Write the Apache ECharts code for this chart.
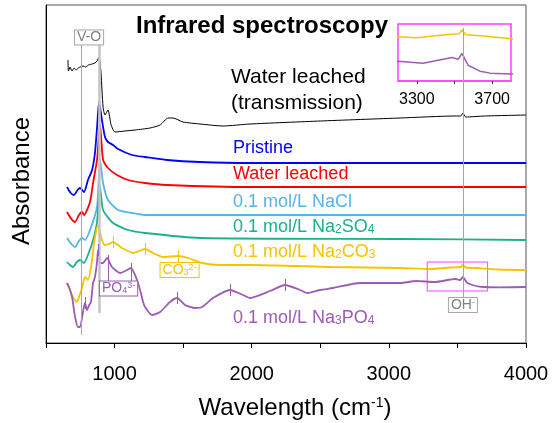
<!DOCTYPE html>
<html>
<head>
<meta charset="utf-8">
<script src="https://cdn.jsdelivr.net/npm/echarts@6/dist/echarts.min.js"></script>
<style>
html, body { margin: 0; padding: 0; background: #fff; }
#main { width: 555px; height: 423px; }
</style>
</head>
<body>
<div id="main"></div>
<script>
// spectra: [wavenumber (cm-1), absorbance (a.u., stacked offsets)]
const transmission = [[660,2.83],[664,2.72],[675,2.76],[690,2.72],[705,2.75],[720,2.73],[735,2.75],[750,2.76],[770,2.77],[790,2.76],[810,2.78],[836,2.79],[857,2.80],[872,2.82],[887,2.86],[901,2.70],[916,2.36],[930,2.28],[952,2.33],[975,2.18],[1003,2.11],[1076,2.12],[1150,2.13],[1259,2.15],[1332,2.18],[1390,2.25],[1426,2.25],[1499,2.21],[1623,2.19],[1791,2.17],[1988,2.19],[2500,2.22],[3082,2.25],[3483,2.27],[3525,2.27],[3540,2.30],[3560,2.26],[3700,2.27],[4000,2.28]];
const pristine = [[653,1.56],[680,1.50],[704,1.48],[730,1.53],[748,1.55],[777,1.51],[806,1.63],[836,1.73],[857,1.90],[872,2.15],[887,2.41],[908,2.23],[930,2.06],[952,2.01],[989,1.98],[1025,1.94],[1127,1.88],[1222,1.86],[1383,1.83],[1623,1.81],[1988,1.80],[4000,1.80]];
const waterLeached = [[653,1.31],[685,1.24],[712,1.21],[740,1.28],[763,1.31],[777,1.28],[821,1.41],[843,1.60],[872,1.83],[894,2.18],[916,1.83],[952,1.75],[1018,1.68],[1098,1.63],[1222,1.60],[1383,1.58],[1988,1.56],[4000,1.56]];
const naCl = [[653,1.05],[685,0.99],[712,0.96],[740,1.02],[763,1.05],[784,1.03],[821,1.13],[872,1.36],[894,1.83],[916,1.60],[952,1.43],[1025,1.33],[1127,1.30],[1222,1.28],[1623,1.28],[4000,1.28]];
const na2SO4 = [[653,0.81],[675,0.78],[697,0.76],[725,0.81],[748,0.83],[777,0.80],[806,0.88],[843,1.03],[872,1.21],[894,1.56],[916,1.33],[989,1.20],[1098,1.13],[1222,1.10],[1623,1.05],[3082,1.04],[4000,1.03]];
const na2CO3 = [[653,0.60],[675,0.53],[700,0.45],[726,0.41],[745,0.48],[763,0.55],[784,0.66],[806,0.63],[836,0.83],[850,1.00],[879,1.18],[908,1.03],[930,0.98],[960,0.99],[989,1.01],[1054,0.95],[1135,0.90],[1222,0.94],[1280,0.90],[1353,0.86],[1463,0.87],[1536,0.85],[1638,0.80],[1769,0.78],[1988,0.78],[2580,0.76],[3082,0.75],[3300,0.74],[3450,0.755],[3525,0.76],[3540,0.78],[3560,0.755],[3640,0.75],[3800,0.735],[4000,0.73]];
const na3PO4 = [[653,0.60],[670,0.55],[690,0.46],[712,0.26],[733,0.16],[748,0.16],[770,0.31],[784,0.40],[799,0.33],[815,0.38],[828,0.41],[843,0.60],[857,0.66],[872,0.81],[879,0.93],[890,0.82],[901,0.80],[916,0.80],[945,0.85],[981,0.76],[1040,0.70],[1091,0.73],[1120,0.75],[1164,0.63],[1186,0.53],[1208,0.41],[1222,0.36],[1273,0.28],[1332,0.31],[1404,0.41],[1456,0.45],[1514,0.38],[1587,0.35],[1638,0.36],[1718,0.45],[1842,0.53],[1937,0.48],[1988,0.45],[2134,0.52],[2243,0.58],[2353,0.53],[2404,0.50],[2499,0.53],[2593,0.55],[2790,0.60],[3082,0.60],[3200,0.62],[3333,0.61],[3487,0.64],[3519,0.63],[3540,0.66],[3556,0.63],[3572,0.60],[3635,0.57],[3689,0.56],[3800,0.556],[4000,0.56]];

// marked bands (cm-1)
const voLines = [755, 887];
const ohLine = 3540;
const po4Peaks = [952, 1120];
const po4Ticks = [784, 879, 1456, 1842, 2243];
const co3Peaks = [989, 1222, 1463];
const zoomBox = [[3280, 0.52], [3720, 0.81]];
const xTickLabels = [1000, 2000, 3000, 4000];
const insetTickLabels = [3300, 3700];
const insetTicks = [3300, 3500, 3700];

const FONT = '"Liberation Sans", Arial, sans-serif';
const C = {
  black: '#000000', blue: '#0000ff', red: '#ff0000', lightblue: '#56b4e9',
  green: '#1cb18c', yellow: '#f5c300', purple: '#9b5cb5', grey: '#8c8c8c', magenta: '#ff40ff'
};

function valueAt(arr, x) {
  for (let i = 1; i < arr.length; i++) {
    if (arr[i][0] >= x) {
      const a = arr[i - 1], b = arr[i];
      return a[1] + (b[1] - a[1]) * (x - a[0]) / (b[0] - a[0]);
    }
  }
  return arr[arr.length - 1][1];
}

function peakTicks(arr, xs, half) {
  return xs.map(x => {
    const y = valueAt(arr, x);
    return [{ coord: [x, y - half] }, { coord: [x, y + half] }];
  });
}

function spectrum(name, data, color, width) {
  return {
    name, type: 'line', data, showSymbol: false, symbol: 'none', smooth: 0.2,
    lineStyle: { color, width }, itemStyle: { color }, z: 3
  };
}

const chart = echarts.init(document.getElementById('main'));

const black = spectrum('Water leached (transmission)', transmission, C.black, 1);
black.markLine = {
  silent: true, symbol: ['none', 'none'], label: { show: false }, animation: false,
  lineStyle: { color: '#a6a6a6', width: 1, type: 'solid' },
  data: [
    [{ coord: [voLines[0], 2.99] }, { coord: [voLines[0], 0.08] }],
    [{ coord: [voLines[1], 2.99], lineStyle: { color: '#c4c4c4', width: 2.5 } },
     { coord: [voLines[1], 0.30], lineStyle: { color: '#c4c4c4', width: 2.5 } }],
    [{ coord: [ohLine, 3.15] }, { coord: [ohLine, 0.45] }]
  ]
};

const yellow = spectrum('0.1 mol/L Na2CO3', na2CO3, C.yellow, 1.8);
yellow.markLine = {
  silent: true, symbol: ['none', 'none'], label: { show: false }, animation: false,
  lineStyle: { color: C.yellow, width: 1, type: 'solid' },
  data: peakTicks(na2CO3, co3Peaks.slice(0, 2), 0.06).concat([
    [{ coord: [co3Peaks[2], 0.80] }, { coord: [co3Peaks[2], valueAt(na2CO3, co3Peaks[2]) + 0.06] }]
  ])
};
yellow.markArea = {
  silent: true,
  itemStyle: { color: 'rgba(0,0,0,0)', borderColor: C.magenta, borderWidth: 1 },
  data: [[{ coord: zoomBox[0] }, { coord: zoomBox[1] }]]
};

const purple = spectrum('0.1 mol/L Na3PO4', na3PO4, C.purple, 1.8);
purple.markLine = {
  silent: true, symbol: ['none', 'none'], label: { show: false }, animation: false,
  lineStyle: { color: C.purple, width: 1, type: 'solid' },
  data: peakTicks(na3PO4, po4Ticks, 0.06).concat(
    po4Peaks.map(x => [{ coord: [x, 0.61] }, { coord: [x, valueAt(na3PO4, x) + 0.05] }])
  )
};

const option = {
  animation: false,
  textStyle: { fontFamily: FONT },
  grid: [
    { left: 46, right: 29, top: 5, bottom: 80, show: true, borderColor: '#555', borderWidth: 1 },
    { left: 398, top: 24, width: 113, height: 57, show: true, borderColor: C.magenta, borderWidth: 1.5 }
  ],
  xAxis: [
    {
      type: 'value', min: 500, max: 4000, interval: 500,
      axisLine: { lineStyle: { color: '#000', width: 1 } },
      axisTick: { length: 5, lineStyle: { color: '#000' } },
      axisLabel: {
        fontSize: 20, color: '#000', margin: 21, fontFamily: FONT,
        formatter: v => (xTickLabels.indexOf(v) >= 0 ? String(v) : '')
      },
      splitLine: { show: false }
    },
    {
      type: 'value', gridIndex: 1, min: 3200, max: 3800,
      axisLine: { lineStyle: { color: C.magenta, width: 1.5 } },
      axisTick: { customValues: insetTicks, length: 3, lineStyle: { color: '#333' } },
      axisLabel: { customValues: insetTickLabels, fontSize: 16, color: '#000', margin: 11, fontFamily: FONT,
        formatter: v => String(v) },
      splitLine: { show: false }
    }
  ],
  yAxis: [
    {
      type: 'value', min: 0, max: 3.38,
      axisLine: { show: true, lineStyle: { color: '#000' } },
      axisTick: { show: false }, axisLabel: { show: false }, splitLine: { show: false }
    },
    { type: 'value', gridIndex: 1, min: 0.52, max: 0.81, show: false, splitLine: { show: false } }
  ],
  series: [
    black,
    spectrum('Pristine', pristine, C.blue, 1.8),
    spectrum('Water leached', waterLeached, C.red, 1.8),
    spectrum('0.1 mol/L NaCl', naCl, C.lightblue, 1.8),
    spectrum('0.1 mol/L Na2SO4', na2SO4, C.green, 1.8),
    yellow,
    purple,
    Object.assign(spectrum('inset Na2CO3', na2CO3, C.yellow, 1.5), { xAxisIndex: 1, yAxisIndex: 1, clip: true, smooth: false }),
    Object.assign(spectrum('inset Na3PO4', na3PO4, C.purple, 1.5), { xAxisIndex: 1, yAxisIndex: 1, clip: true, smooth: false })
  ]
};

chart.setOption(option);

// text annotations
const subRich = {
  sub: { fontSize: 12, verticalAlign: 'bottom', padding: [6, 0, 0, 0] },
  sup: { fontSize: 10, verticalAlign: 'top', padding: [0, 0, 6, 0] }
};
function label(x, y, text, color, size) {
  return {
    type: 'text', x, y, silent: true,
    style: { text, fill: color, fontSize: size || 18, fontFamily: FONT, align: 'left', verticalAlign: 'middle', rich: subRich }
  };
}
function tagBox(xv, yv, text, color, border) {
  const p = chart.convertToPixel({ gridIndex: 0 }, [xv, yv]);
  return {
    type: 'text', x: p[0], y: p[1], silent: true, z: 10,
    style: {
      text, fill: color, fontSize: 14, fontFamily: FONT, align: 'center', verticalAlign: 'middle',
      backgroundColor: '#fff', borderColor: border, borderWidth: 1, padding: [0, 2, 0, 2],
      rich: {
        main: { fontSize: 14, fill: color },
        sub: { fontSize: 9, verticalAlign: 'bottom', fill: color },
        sup: { fontSize: 9, verticalAlign: 'top', fill: color }
      }
    }
  };
}

chart.setOption({
  graphic: [
    { type: 'text', x: 262, y: 26, silent: true,
      style: { text: 'Infrared spectroscopy', fontSize: 24, fontWeight: 'bold', fontFamily: FONT, fill: '#000', align: 'center', verticalAlign: 'middle' } },
    { type: 'text', x: 231, y: 64, silent: true,
      style: { text: 'Water leached\n(transmission)', fontSize: 21, lineHeight: 26, fontFamily: FONT, fill: '#000', align: 'left', verticalAlign: 'top' } },
    label(233, 148, 'Pristine', C.blue),
    label(233, 174, 'Water leached', C.red),
    label(233, 202, '0.1 mol/L NaCl', C.lightblue),
    label(233, 227, '0.1 mol/L Na{sub|2}SO{sub|4}', C.green),
    label(233, 252, '0.1 mol/L Na{sub|2}CO{sub|3}', C.yellow),
    label(233, 318, '0.1 mol/L Na{sub|3}PO{sub|4}', C.purple),
    { type: 'text', x: 22, y: 181, rotation: Math.PI / 2, silent: true,
      style: { text: 'Absorbance', fontSize: 24, fontFamily: FONT, fill: '#000', align: 'center', verticalAlign: 'middle' } },
    { type: 'text', x: 295, y: 408, silent: true,
      style: { text: 'Wavelength (cm{sup|-1})', fontSize: 24, fontFamily: FONT, fill: '#000', align: 'center', verticalAlign: 'middle',
        rich: { sup: { fontSize: 14, verticalAlign: 'top', padding: [0, 0, 8, 0] } } } },
    tagBox(814, 3.055, '{main|V-O}', '#7f7f7f', '#a6a6a6'),
    tagBox(1029, 0.545, '{main|PO}{sub|4}{sup|3-}', C.purple, C.purple),
    tagBox(1474, 0.73, '{main|CO}{sub|3}{sup|2-}', C.yellow, C.yellow),
    tagBox(ohLine, 0.38, '{main|OH}{sup|-}', '#7f7f7f', '#a6a6a6')
  ]
});
</script>
</body>
</html>
